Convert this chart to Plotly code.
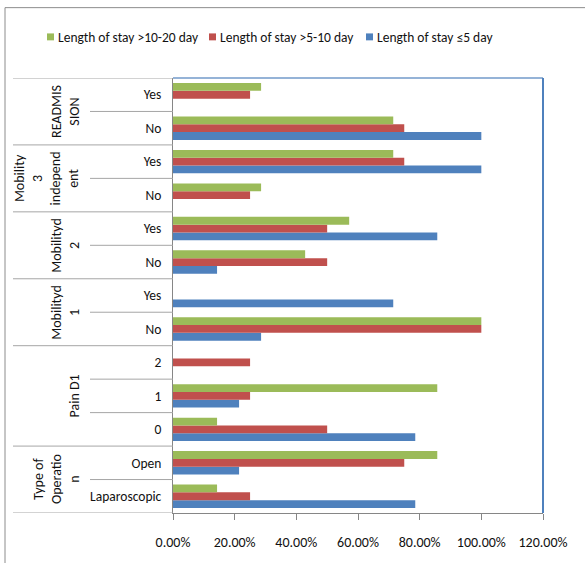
import plotly.graph_objects as go

# Rows listed bottom-to-top, as they stack on the chart
groups = ["Type of<br>Operatio<br>n", "Pain D1", "Mobilityd<br>1", "Mobilityd<br>2",
          "Mobility<br>3<br>independ<br>ent", "READMIS<br>SION"]
group_rows = [[0, 1], [2, 3, 4], [5, 6], [7, 8], [9, 10], [11, 12]]
sub_labels = ["Laparoscopic", "Open", "0", "1", "2", "No", "Yes", "No", "Yes",
              "No", "Yes", "No", "Yes"]

series_names = ["Length of stay \u22645 day", "Length of stay >5-10 day",
                "Length of stay >10-20 day"]
stay_le5 = [0.7857, 0.2143, 0.7857, 0.2143, 0.0, 0.2857, 0.7143, 0.1429, 0.8571,
            0.0, 1.0, 1.0, 0.0]
stay_5_10 = [0.25, 0.75, 0.50, 0.25, 0.25, 1.0, 0.0, 0.50, 0.50, 0.25, 0.75, 0.75, 0.25]
stay_10_20 = [0.1429, 0.8571, 0.1429, 0.8571, 0.0, 1.0, 0.0, 0.4286, 0.5714, 0.2857,
              0.7143, 0.7143, 0.2857]
series_colors = ["#4F81BD", "#C0504D", "#9BBB59"]

x_ticks = [0, 0.2, 0.4, 0.6, 0.8, 1.0, 1.2]

FONT = "Carlito, 'Liberation Sans Narrow', 'DejaVu Sans Condensed', Lato, sans-serif"
TXT = "#111111"
W, H = 585, 563
L, R, T, B = 173, 543, 78, 517  # plot area in pixels
PW, PH = R - L, B - T


def px_x(p):
    return (p - L) / PW


def px_y(p):
    return (B - p) / PH


rows = list(range(len(sub_labels)))
fig = go.Figure()
for name, vals, col in zip(series_names, [stay_le5, stay_5_10, stay_10_20], series_colors):
    fig.add_trace(go.Bar(y=rows, x=vals, orientation="h", name=name,
                         marker=dict(color=col, line=dict(width=0)), showlegend=False))

shapes = []
line_col = "#A6A6A6"
# outer chart border
shapes.append(dict(type="rect", xref="paper", yref="paper", x0=px_x(5), x1=px_x(700),
                   y0=px_y(700), y1=px_y(7), line=dict(color="#8C8C8C", width=1)))
# group divider lines across the label table
bounds = [g[0] - 0.5 for g in group_rows] + [group_rows[-1][-1] + 0.5]
for b in bounds:
    shapes.append(dict(type="line", xref="paper", yref="y", x0=px_x(13), x1=0,
                       y0=b, y1=b, line=dict(color=line_col, width=1)))
# sub-category dividers
for g in group_rows:
    for r in g[1:]:
        shapes.append(dict(type="line", xref="paper", yref="y", x0=px_x(90), x1=0,
                           y0=r - 0.5, y1=r - 0.5, line=dict(color=line_col, width=1)))
# plot-area border on top and right
shapes.append(dict(type="line", xref="paper", yref="paper", x0=0, x1=1, y0=1, y1=1,
                   line=dict(color="#95B3D7", width=2)))
shapes.append(dict(type="line", xref="paper", yref="paper", x0=1, x1=1, y0=0, y1=1,
                   line=dict(color="#4F81BD", width=2)))

annotations = []
for lab, g in zip(groups, group_rows):
    annotations.append(dict(text=lab, xref="paper", yref="y", x=px_x(85),
                            y=(g[0] + g[-1]) / 2, xanchor="right", yanchor="middle",
                            textangle=-90, showarrow=False, align="center",
                            font=dict(family=FONT, size=14, color=TXT)))

# legend drawn as swatches and labels, in reverse series order
leg_sq = [366, 209, 47]
for name, col, sx in zip(series_names, series_colors, leg_sq):
    shapes.append(dict(type="rect", xref="paper", yref="paper", x0=px_x(sx),
                       x1=px_x(sx + 7), y0=px_y(40), y1=px_y(33),
                       fillcolor=col, line=dict(width=0)))
    annotations.append(dict(text=name, xref="paper", yref="paper", x=px_x(sx + 9),
                            y=px_y(37.5), xanchor="left", yanchor="middle",
                            showarrow=False,
                            font=dict(family=FONT, size=13.5, color=TXT)))

fig.update_layout(
    width=W, height=H, margin=dict(l=L, r=W - R, t=T, b=H - B),
    paper_bgcolor="white", plot_bgcolor="white",
    barmode="group", bargap=0.3, bargroupgap=0,
    shapes=shapes, annotations=annotations,
    font=dict(family=FONT, size=13, color=TXT),
    xaxis=dict(range=[0, 1.2], tickvals=x_ticks, tickformat=".2%", showgrid=False,
               zeroline=False, showline=True, linecolor="#868686", linewidth=1,
               ticks="outside", ticklen=6, tickcolor="#868686",
               ticklabelstandoff=10, tickfont=dict(family=FONT, size=14, color=TXT)),
    yaxis=dict(range=[-0.5, len(rows) - 0.5], tickvals=rows, ticktext=sub_labels,
               showgrid=False, zeroline=False, showline=True, linecolor="#868686",
               linewidth=1, ticks="", ticklabelstandoff=8,
               tickfont=dict(family=FONT, size=13.5, color=TXT)),
)

fig.write_html("out.html")
